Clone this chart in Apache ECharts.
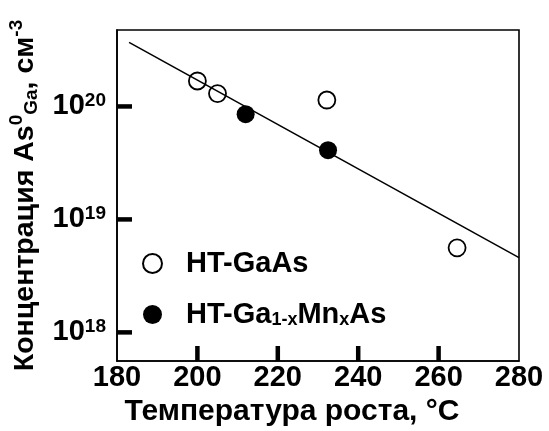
<!DOCTYPE html>
<html><head><meta charset="utf-8">
<script src="https://cdn.jsdelivr.net/npm/echarts@6/dist/echarts.min.js"></script>
<style>html,body{margin:0;padding:0;background:#fff}#c{width:549px;height:431px}</style>
</head><body><div id="c"></div>
<script>
// Data
const htGaAsTemp = [200, 205, 232.2, 264.6];
const htGaAsConc = [1.68e20, 1.30e20, 1.14e20, 5.6e18];
const htGaMnAsTemp = [212, 232.5];
const htGaMnAsConc = [8.55e19, 4.1e19];
const fitTemp = [183, 280];
const fitConc = [3.69e20, 4.59e18];
const xTickLabels = [180, 200, 220, 240, 260, 280];
const xTickMarks = [200, 220, 240, 260];
const yTickValues = [1e18, 1e19, 1e20];
const yRange = [5.58e17, 4.75e20];

const FONT = 'Liberation Sans, Arial, sans-serif';
const TICK_LEN = 15, TICK_W = 4.5;
const chart = echarts.init(document.getElementById('c'), null, {renderer: 'canvas'});
const zip = (a, b) => a.map((v, i) => [v, b[i]]);
const xMin = xTickLabels[0], xMax = xTickLabels[xTickLabels.length - 1];

// Inward tick marks drawn through the axes' own coordinate mapping
function tickSeries(data, dir) {
  return {
    type: 'custom', silent: true, z: 5, clip: false,
    data: data,
    renderItem: function (params, api) {
      const p = api.coord([api.value(0), api.value(1)]);
      const q = dir === 'up' ? [p[0], p[1] - TICK_LEN] : [p[0] + TICK_LEN, p[1]];
      return {type: 'line', shape: {x1: p[0], y1: p[1], x2: q[0], y2: q[1]}, style: {stroke: '#000', lineWidth: TICK_W, lineCap: 'butt'}};
    }
  };
}

chart.setOption({
  animation: false,
  backgroundColor: '#fff',
  grid: {left: 117, right: 30, top: 30, bottom: 70, show: true, backgroundColor: 'transparent', borderColor: '#000', borderWidth: 1.6, containLabel: false, outerBoundsMode: 'none'},
  legend: {
    data: ['HT-GaAs', 'HT-GaMnAs'],
    orient: 'vertical',
    left: 137, top: 244,
    itemWidth: 19, itemHeight: 19, itemGap: 22,
    icon: 'circle',
    textStyle: {
      fontFamily: FONT, fontWeight: 'bold', fontSize: 29, color: '#000', padding: [0, 0, 0, 19],
      rich: {
        b: {fontFamily: FONT, fontWeight: 'bold', fontSize: 29, color: '#000', lineHeight: 30},
        s: {fontFamily: FONT, fontWeight: 'bold', fontSize: 18, color: '#000', lineHeight: 30, verticalAlign: 'bottom', padding: [8, 0, 0, 0]}
      }
    },
    formatter: function (name) {
      if (name === 'HT-GaMnAs') return '{b|HT-Ga}{s|1-x}{b|Mn}{s|x}{b|As}';
      return '{b|HT-GaAs}';
    }
  },
  xAxis: {
    type: 'value', min: xMin, max: xMax, interval: 20,
    axisLine: {show: true, lineStyle: {color: '#000', width: 1.6}},
    axisTick: {show: false},
    axisLabel: {show: true, margin: 2, fontFamily: FONT, fontWeight: 'bold', fontSize: 29, color: '#000', showMinLabel: true, showMaxLabel: true},
    splitLine: {show: false},
    name: 'Температура роста, °C', nameLocation: 'middle', nameGap: 35,
    nameTextStyle: {fontFamily: FONT, fontWeight: 'bold', fontSize: 30, color: '#000', padding: [0, 52, 0, 0]}
  },
  yAxis: {
    type: 'log', logBase: 10, min: yRange[0], max: yRange[1],
    axisLine: {show: true, lineStyle: {color: '#000', width: 1.6}},
    axisTick: {show: false},
    axisLabel: {
      show: true, margin: 11, customValues: yTickValues,
      formatter: function (v) { return '{b|10}{p|' + Math.round(Math.log10(v)) + '}'; },
      rich: {
        b: {fontFamily: FONT, fontWeight: 'bold', fontSize: 29, color: '#000', lineHeight: 30},
        p: {fontFamily: FONT, fontWeight: 'bold', fontSize: 19, color: '#000', lineHeight: 30, verticalAlign: 'top', padding: [0, 0, 16, 0]}
      }
    },
    splitLine: {show: false},
    name: '{b|Концентрация As}{p|0}{s|Ga}{b|, см}{p|-3}',
    nameLocation: 'middle', nameRotate: 90, nameGap: 72,
    nameTextStyle: {
      rich: {
        b: {fontFamily: FONT, fontWeight: 'bold', fontSize: 28.5, color: '#000', lineHeight: 34},
        p: {fontFamily: FONT, fontWeight: 'bold', fontSize: 19, color: '#000', lineHeight: 34, verticalAlign: 'top'},
        s: {fontFamily: FONT, fontWeight: 'bold', fontSize: 19, color: '#000', lineHeight: 34, verticalAlign: 'bottom'}
      }
    }
  },
  series: [
    {
      name: 'fit', type: 'line', data: zip(fitTemp, fitConc), showSymbol: false, symbol: 'none',
      lineStyle: {color: '#000', width: 1.6}, z: 3, silent: true
    },
    {
      name: 'HT-GaAs', type: 'scatter', data: zip(htGaAsTemp, htGaAsConc), symbol: 'circle', symbolSize: 17,
      itemStyle: {color: 'rgba(255,255,255,0)', borderColor: '#000', borderWidth: 1.8, opacity: 1}, z: 4
    },
    {
      name: 'HT-GaMnAs', type: 'scatter', data: zip(htGaMnAsTemp, htGaMnAsConc), symbol: 'circle', symbolSize: 18,
      itemStyle: {color: '#000', borderColor: '#000', borderWidth: 0, opacity: 1}, z: 4
    },
    Object.assign({name: 'xticks'}, tickSeries(xTickMarks.map(v => [v, yRange[0]]), 'up')),
    Object.assign({name: 'yticks'}, tickSeries(yTickValues.map(v => [xMin, v]), 'right'))
  ]
});
</script>
</body></html>
